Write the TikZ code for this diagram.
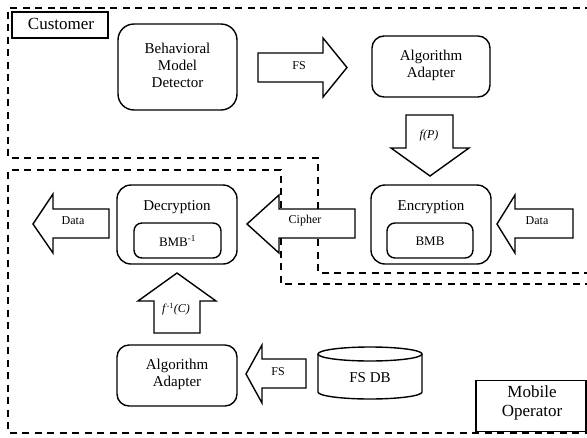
\documentclass[tikz,border=0pt]{standalone}
\usepackage{fontspec}
\setmainfont{Liberation Serif}
\begin{document}
\begin{tikzpicture}[x=1pt,y=-1pt,
  region/.style={line width=1.8pt, dash pattern=on 7pt off 5.5pt},
  rbox/.style={draw, line width=1.4pt, rounded corners=#1, inner sep=0pt},
  rbox/.default=14pt,
  plainbox/.style={draw, line width=1.3pt, inner sep=0pt},
  blockarrow/.style={draw, line width=1.4pt, line join=miter, fill=white},
  boxtext/.style={align=center, font=\fontsize{15}{17}\selectfont, inner sep=0pt},
  smalltext/.style={font=\fontsize{12}{14}\selectfont, inner sep=0pt},
  bigtext/.style={align=center, font=\fontsize{17}{19}\selectfont, inner sep=0pt}
]
\useasboundingbox (0,0) rectangle (587,437);

% Customer and Mobile Operator domains
\draw[region] (592,8) -- (8,8) -- (8,158) -- (318,158) -- (318,273) -- (592,273);
\draw[region] (592,284) -- (281,284) -- (281,170) -- (8,170) -- (8,433) -- (592,433);

% domain labels
\node[plainbox, minimum width=96pt, minimum height=26pt] (custbox) at (60,25) {};
\node[bigtext] (cust) at (61,24) {Customer};
\node[plainbox, minimum width=110pt, minimum height=51pt] (mobox) at (531,406) {};
\node[bigtext] (mo) at (532,403) {Mobile\\Operator};

% processing blocks
\node[rbox=16pt, minimum width=119pt, minimum height=86pt] (bmd) at (177.5,67) {};
\node[boxtext] (bmdtext) at (177.5,65) {Behavioral\\Model\\Detector};

\node[rbox=12pt, minimum width=118pt, minimum height=61pt] (aatop) at (431,66.5) {};
\node[boxtext] (aatoptext) at (431,65) {Algorithm\\Adapter};

\node[rbox, minimum width=120pt, minimum height=79pt] (enc) at (431,224.5) {};
\node[boxtext] (enctext) at (431,207) {Encryption};
\node[rbox=8pt, minimum width=86pt, minimum height=35pt] (bmb) at (430,240.5) {};
\node[smalltext, font=\fontsize{13}{15}\selectfont] (bmbtext) at (430,241) {BMB};

\node[rbox, minimum width=120pt, minimum height=79pt] (dec) at (177,224.5) {};
\node[boxtext] (dectext) at (177,207) {Decryption};
\node[rbox=8pt, minimum width=87pt, minimum height=35pt] (bmbinv) at (177.5,240.5) {};
\node[smalltext, font=\fontsize{13}{15}\selectfont] (bmbinvtext) at (177.5,241) {BMB\textsuperscript{-1}};

\node[rbox=12pt, minimum width=120pt, minimum height=61pt] (aabot) at (177,375.5) {};
\node[boxtext] (aabottext) at (177,374) {Algorithm\\Adapter};

% feature-set database
\draw[line width=1.4pt, fill=white] (318,354) -- (318,392)
  arc[start angle=180, end angle=0, x radius=52, y radius=7] -- (422,354);
\draw[line width=1.4pt] (370,354) ellipse[x radius=52, y radius=7];
\node[boxtext] (fsdb) at (370,378) {FS DB};

% block arrows
\draw[blockarrow] (258,53) -- (323,53) -- (323,38) -- (347,67.5) -- (323,97) -- (323,82) -- (258,82) -- cycle;
\node[smalltext] (fs1) at (299,66) {FS};

\draw[blockarrow] (406,115) -- (453,115) -- (453,148) -- (469,148) -- (430,176) -- (391,148) -- (406,148) -- cycle;
\node[smalltext] (fp) at (429,136) {\textit{f(P)}};

\draw[blockarrow] (573,209) -- (515,209) -- (515,195) -- (497,224) -- (515,253) -- (515,238) -- (573,238) -- cycle;
\node[smalltext] (data1) at (537,221) {Data};

\draw[blockarrow] (355,209) -- (279,209) -- (279,195) -- (247,224) -- (279,253) -- (279,238) -- (355,238) -- cycle;
\node[smalltext] (cipher) at (305,221) {Cipher};

\draw[blockarrow] (109,209) -- (53,209) -- (53,194) -- (33,224) -- (53,253) -- (53,238) -- (109,238) -- cycle;
\node[smalltext] (data2) at (73,221) {Data};

\draw[blockarrow] (154,333) -- (154,301) -- (138,301) -- (177,273) -- (216,301) -- (200,301) -- (200,333) -- cycle;
\node[smalltext] (finv) at (176,309) {\textit{f}\textsuperscript{-1}\textit{(C)}};

\draw[blockarrow] (306,359) -- (262,359) -- (262,345) -- (246,374) -- (262,403) -- (262,388) -- (306,388) -- cycle;
\node[smalltext] (fs2) at (278,372) {FS};
\end{tikzpicture}
\end{document}
